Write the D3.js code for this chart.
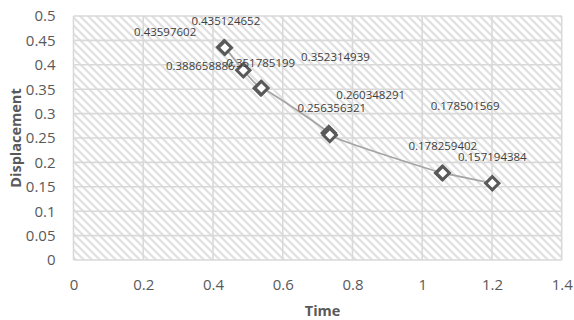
<!DOCTYPE html>
<html>
<head>
<meta charset="utf-8">
<script src="https://cdn.jsdelivr.net/npm/d3@7"></script>
<style>
  body { margin: 0; background: #fff; }
  svg { display: block; font-family: "Open Sans", sans-serif; }
</style>
</head>
<body>
<div id="chart"></div>
<script>
// data
const time = [0.432, 0.434, 0.487, 0.537, 0.539, 0.732, 0.735, 1.057, 1.059, 1.201];
const displacement = [0.43597602, 0.435124652, 0.388658886, 0.351785199, 0.352314939,
    0.260348291, 0.256356321, 0.178501569, 0.178259402, 0.157194384];
const xTicks = [0, 0.2, 0.4, 0.6, 0.8, 1, 1.2, 1.4];
const yTicks = [0, 0.05, 0.1, 0.15, 0.2, 0.25, 0.3, 0.35, 0.4, 0.45, 0.5];

// where each data label sits relative to its marker (px), like dragged labels in the original
const labelNudge = [[-59, -16], [1, -27], [-43, -5], [0, -26], [74, -32],
    [42, -38], [2, -27], [23, -67], [0, -28], [0, -27]];

function ScatterChart({
    target,
    width = 574,
    height = 320,
    marginTop = 16,
    marginRight = 12.3,
    marginBottom = 60,
    marginLeft = 73.5,
} = {}) {
    const svg = d3.select(target).append("svg")
        .attr("width", width)
        .attr("height", height);

    const data = time.map((t, i) => ({t, d: displacement[i], nudge: labelNudge[i]}));

    const x = d3.scaleLinear().domain([0, 1.4]).range([marginLeft, width - marginRight]);
    const y = d3.scaleLinear().domain([0, 0.5]).range([height - marginBottom, marginTop]);

    // diagonal hatch background
    const pat = svg.append("defs").append("pattern")
        .attr("id", "hatch")
        .attr("patternUnits", "userSpaceOnUse")
        .attr("width", 8).attr("height", 8);
    pat.append("rect").attr("width", 8).attr("height", 8).attr("fill", "#fff");
    pat.append("path")
        .attr("d", "M-2,-2 L10,10 M-2,6 L2,10 M6,-2 L10,2")
        .attr("stroke", "#e0e0e0")
        .attr("stroke-width", 2.2);

    svg.append("rect")
        .attr("x", x(0)).attr("y", y(0.5))
        .attr("width", x(1.4) - x(0)).attr("height", y(0) - y(0.5))
        .attr("fill", "url(#hatch)");

    // gridlines
    const grid = svg.append("g").attr("stroke", "#d9d9d9").attr("stroke-width", 1.6);
    grid.selectAll(".gx").data(xTicks).enter().append("line")
        .attr("x1", d => x(d)).attr("x2", d => x(d))
        .attr("y1", y(0)).attr("y2", y(0.5));
    grid.selectAll(".gy").data(yTicks).enter().append("line")
        .attr("x1", x(0)).attr("x2", x(1.4))
        .attr("y1", d => y(d)).attr("y2", d => y(d));

    // axes (text only, Excel style)
    const xAxis = svg.append("g")
        .attr("transform", `translate(0,${y(0) + 25})`)
        .call(d3.axisBottom(x).tickValues(xTicks).tickFormat(d3.format("")).tickSize(0));
    const yAxis = svg.append("g")
        .attr("transform", `translate(${x(0) - 18},0)`)
        .call(d3.axisLeft(y).tickValues(yTicks).tickFormat(d3.format("")).tickSize(0));
    [xAxis, yAxis].forEach(a => {
        a.select(".domain").remove();
        a.selectAll("text")
            .attr("fill", "#595959")
            .style("font-family", "'Open Sans', sans-serif")
            .style("font-size", "15px");
    });
    xAxis.selectAll("text").attr("dy", "0.35em").attr("y", 0);
    yAxis.selectAll("text").attr("x", 0);

    // smoothed series line
    const line = d3.line()
        .x(d => x(d.t)).y(d => y(d.d))
        .curve(d3.curveCatmullRom.alpha(0.5));
    svg.append("path")
        .datum(data)
        .attr("fill", "none")
        .attr("stroke", "#a5a5a5")
        .attr("stroke-width", 1.8)
        .attr("d", line);

    // diamond markers
    const sym = d3.symbol().type(d3.symbolSquare).size(88);
    svg.selectAll(".mark").data(data).enter().append("path")
        .attr("d", sym)
        .attr("transform", d => `translate(${x(d.t)},${y(d.d)}) rotate(45)`)
        .attr("fill", "#fff")
        .attr("stroke", "#595959")
        .attr("stroke-width", 3);

    // data labels
    svg.selectAll(".lbl").data(data).enter().append("text")
        .attr("x", d => x(d.t) + d.nudge[0])
        .attr("y", d => y(d.d) + d.nudge[1])
        .attr("text-anchor", "middle")
        .attr("dominant-baseline", "central")
        .attr("fill", "#404040")
        .style("font-size", "11.5px")
        .text(d => d.d);

    // axis titles
    svg.append("text")
        .attr("x", (x(0) + x(1.4)) / 2 + 5)
        .attr("y", 310)
        .attr("text-anchor", "middle")
        .attr("dominant-baseline", "central")
        .attr("fill", "#595959")
        .style("font-size", "14.5px")
        .style("font-weight", "bold")
        .text("Time");

    svg.append("text")
        .attr("transform", `translate(15,${(y(0) + y(0.5)) / 2}) rotate(-90)`)
        .attr("text-anchor", "middle")
        .attr("dominant-baseline", "central")
        .attr("fill", "#595959")
        .style("font-size", "14.5px")
        .style("font-weight", "bold")
        .text("Displacement");
}

ScatterChart({
    target: "#chart",
})
</script>
</body>
</html>
